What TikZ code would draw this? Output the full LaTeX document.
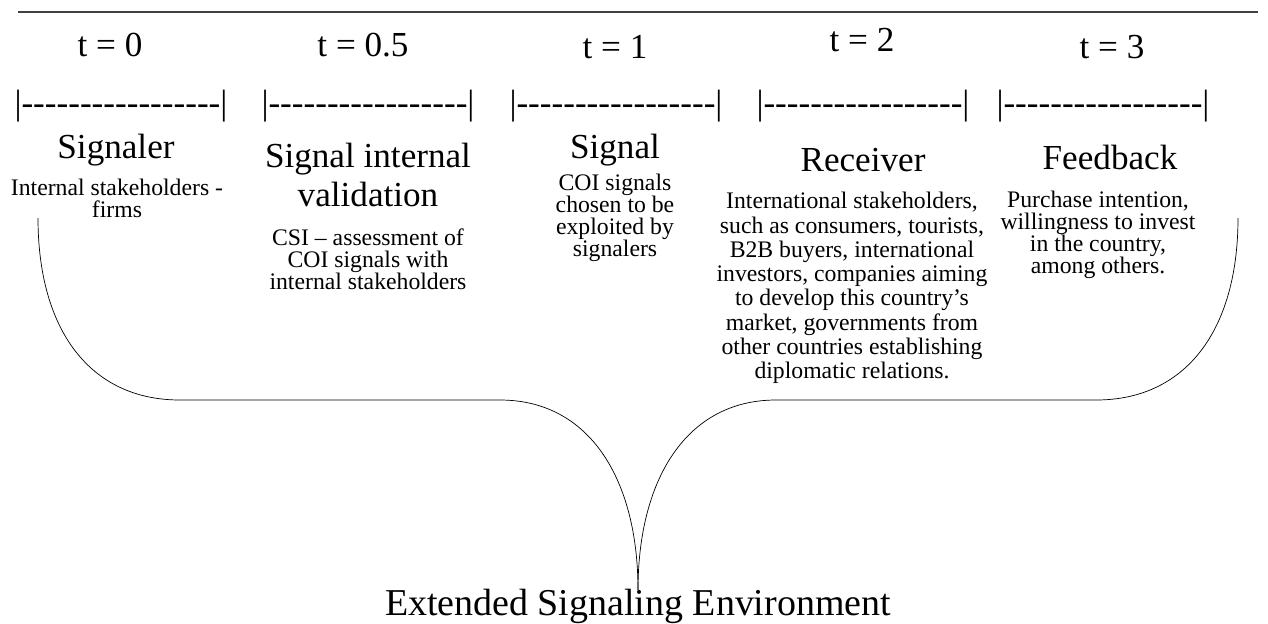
\documentclass[tikz,border=0pt]{standalone}
\usepackage{fontspec}
\setmainfont{Liberation Serif}
\newfontfamily\barfont{Liberation Serif}
\usetikzlibrary{positioning}

\tikzset{
  tlab/.style={font=\fontsize{20}{22}\selectfont},
  tbar/.style={font=\barfont\fontsize{20}{22}\selectfont},
  phase/.style={align=center,font=\fontsize{20}{22.7}\selectfont},
  descr/.style={align=center,font=\fontsize{13.5}{12.4}\selectfont},
}

\begin{document}
\begin{tikzpicture}[x=0.02cm,y=-0.02cm]
\useasboundingbox (0,0) rectangle (1268,623);
\draw[line width=1.1pt,black!75] (18,12) -- (1258,12);

\node[tlab](t0) at (110,45){t = 0};
\node[tlab](t05) at (363,45){t = 0.5};
\node[tlab](t1) at (615,47){t = 1};
\node[tlab](t2) at (862,40){t = 2};
\node[tlab](t3) at (1112,47){t = 3};

\node[tbar](b0) at (121,106){|-----------------|};
\node[tbar](b05) at (368,106){|-----------------|};
\node[tbar](b1) at (616,106){|-----------------|};
\node[tbar](b2) at (863,106){|-----------------|};
\node[tbar](b3) at (1103,106){|-----------------|};

\node[phase](signaler) at (116,150){Signaler};
\node[phase](validation) at (368,175){Signal internal\\validation};
\node[phase](signal) at (615,150){Signal};
\node[phase](receiver) at (863,160){Receiver};
\node[phase](feedback) at (1110,157){Feedback};

\node[descr](dsignaler) at (117,198){Internal stakeholders -\\firms};
\node[descr](dvalidation) at (368,259){CSI – assessment of\\COI signals with\\internal stakeholders};
\node[descr](dsignal) at (615,218){COI signals\\chosen to be\\exploited by\\signalers};
\node[descr,font=\fontsize{13.5}{13.8}\selectfont](dreceiver) at (852,288){International stakeholders,\\such as consumers, tourists,\\B2B buyers, international\\investors, companies aiming\\to develop this country’s\\market, governments from\\other countries establishing\\diplomatic relations.};
\node[descr](dfeedback) at (1098,235){Purchase intention,\\willingness to invest\\in the country,\\among others.};

% the brace
\coordinate (lend) at (38,218);
\coordinate (rend) at (1238,218);
\coordinate (cusp) at (638,590);
\draw (lend) .. controls (38,330) and (90,400) .. (180,400) -- (500,400)
  .. controls (590,400) and (638,480) .. (cusp);
\draw (cusp) .. controls (638,480) and (686,400) .. (776,400) -- (1096,400)
  .. controls (1186,400) and (1238,330) .. (rend);

\node[phase,font=\fontsize{21.6}{24}\selectfont](env) at (638,606){Extended Signaling Environment};
\end{tikzpicture}
\end{document}
